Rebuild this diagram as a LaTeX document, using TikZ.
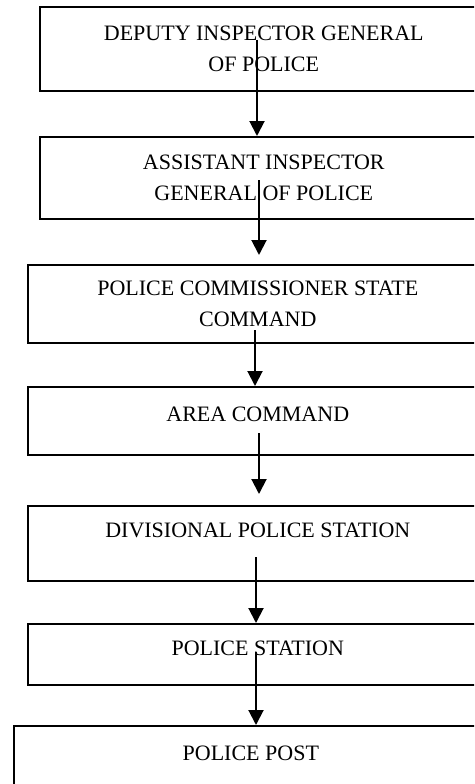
\documentclass[tikz,border=0pt]{standalone}
\usepackage{fontspec}
\setmainfont{Liberation Serif}
\usetikzlibrary{arrows.meta}

\tikzset{
	rankbox/.style={draw, line width=1.6pt, anchor=north west, inner sep=0pt,
		align=center, font=\fontsize{22}{31}\selectfont},
	onerow/.style={text height=15pt, text depth=#1},
	chainarrow/.style={-{Triangle[width=15pt,length=15pt]}, line width=2pt}
}

\begin{document}
\begin{tikzpicture}[x=1pt, y=-1pt]
		\path[use as bounding box, clip] (0,0) rectangle (474,784);

		\node[rankbox, minimum width=448pt, minimum height=84pt] (dig) at (39,6)
		{DEPUTY INSPECTOR GENERAL\\OF POLICE};
		\node[rankbox, minimum width=448pt, minimum height=82pt] (aig) at (39,136)
		{ASSISTANT INSPECTOR\\GENERAL OF POLICE};
		\node[rankbox, minimum width=460pt, minimum height=78pt] (pcsc) at (27,264)
		{POLICE COMMISSIONER STATE\\COMMAND};
		\node[rankbox, onerow=13pt, minimum width=460pt, minimum height=68pt] (area) at (27,386)
		{AREA COMMAND};
		\node[rankbox, onerow=26pt, minimum width=460pt, minimum height=75pt] (divps) at (27,505)
		{DIVISIONAL POLICE STATION};
		\node[rankbox, onerow=12pt, minimum width=460pt, minimum height=61pt] (ps) at (27,623)
		{POLICE STATION};
		\node[rankbox, onerow=12pt, minimum width=474pt, minimum height=66pt] (post) at (13,725)
		{POLICE POST};

		% arrows start inside the upper box
		\coordinate (a1) at (257,40);
		\coordinate (a2) at (259,180);
		\coordinate (a3) at (255,330);
		\coordinate (a4) at (259,433);
		\coordinate (a5) at (256,557);
		\coordinate (a6) at (256,652);

		\draw[chainarrow] (a1) -- (a1 |- aig.north);
		\draw[chainarrow, shorten >=9pt] (a2) -- (a2 |- pcsc.north);
		\draw[chainarrow] (a3) -- (a3 |- area.north);
		\draw[chainarrow, shorten >=11pt] (a4) -- (a4 |- divps.north);
		\draw[chainarrow] (a5) -- (a5 |- ps.north);
		\draw[chainarrow] (a6) -- (a6 |- post.north);

\end{tikzpicture}
\end{document}
